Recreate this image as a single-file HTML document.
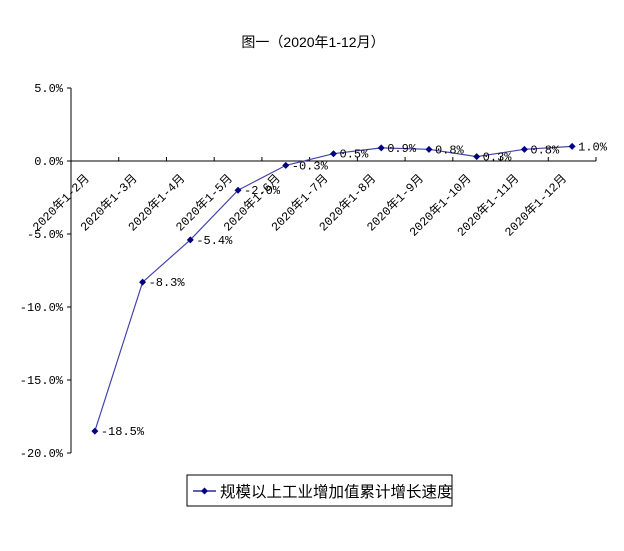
<!DOCTYPE html>
<html><head><meta charset="utf-8">
<style>
body{margin:0;background:#fff;}
svg{display:block;font-family:"Liberation Mono","Noto Sans CJK SC",monospace;}
</style></head>
<body>
<svg id="chart" width="624" height="551" viewBox="0 0 624 551" xmlns="http://www.w3.org/2000/svg">
<rect width="624" height="551" fill="#fff"/>
<text x="313" y="47" text-anchor="middle" font-size="14" font-family="Liberation Sans,Noto Sans CJK SC,sans-serif" fill="#000">图一（2020年1-12月）</text>
<g id="axes"></g>
<g id="series"></g>
<g>
<rect x="187" y="475" width="265" height="31" fill="#fff" stroke="#000" stroke-width="1"/>
<line x1="193" y1="491" x2="216" y2="491" stroke="#000080" stroke-width="1.2"/>
<path d="M204.5 487.5 L208 491 L204.5 494.5 L201 491 Z" fill="#000080"/>
<text x="220" y="497" font-size="15.5" font-family="Liberation Sans,Noto Sans CJK SC,sans-serif" fill="#000">规模以上工业增加值累计增长速度</text>
</g>
</svg>
<script>
const categories = ["2020年1-2月","2020年1-3月","2020年1-4月","2020年1-5月","2020年1-6月","2020年1-7月","2020年1-8月","2020年1-9月","2020年1-10月","2020年1-11月","2020年1-12月"];
const values = [-18.5,-8.3,-5.4,-2.0,-0.3,0.5,0.9,0.8,0.3,0.8,1.0];
const valueLabels = ["-18.5%","-8.3%","-5.4%","-2.0%","-0.3%","0.5%","0.9%","0.8%","0.3%","0.8%","1.0%"];
const yTicks = [5,0,-5,-10,-15,-20];
const yTickLabels = ["5.0%","0.0%","-5.0%","-10.0%","-15.0%","-20.0%"];

const NS="http://www.w3.org/2000/svg";
const x0=71, x1=596, yTop=88, yZero=161, yMin=-20, yMax=5;
const pxPer=(yZero-yTop)/5;
const y=v=>yZero-v*pxPer;
const step=(x1-x0)/categories.length;
const x=i=>x0+step*(i+0.5);
function mk(tag,attrs,parent){const e=document.createElementNS(NS,tag);for(const k in attrs)e.setAttribute(k,attrs[k]);parent.appendChild(e);return e;}
const axes=document.getElementById('axes'), ser=document.getElementById('series');

const ya=mk('line',{x1:x0,y1:y(yMax),x2:x0,y2:y(yMin),stroke:'#000','stroke-width':1},axes);


yTicks.forEach((t,i)=>{
  const tk=mk('line',{x1:x0-4,y1:y(t),x2:x0,y2:y(t),stroke:'#000'},axes);
  
  
  const tl=mk('text',{x:x0-8,y:y(t)+4,'text-anchor':'end','font-size':12,fill:'#000'},axes);
  tl.textContent=yTickLabels[i];
  
  
});
const xa=mk('line',{x1:x0,y1:yZero,x2:x1,y2:yZero,stroke:'#000','stroke-width':1},axes);


for(let i=1;i<=categories.length;i++){
  const xx=x0+step*i;
  const tk=mk('line',{x1:xx,y1:yZero-4,x2:xx,y2:yZero,stroke:'#000'},axes);
  
  
}
categories.forEach((c,i)=>{
  const tx=x(i)-5, ty=yZero+18;
  const t=mk('text',{x:tx,y:ty,'text-anchor':'end','font-size':12,fill:'#000',transform:`rotate(-45 ${tx} ${ty})`},axes);
  t.textContent=c;
  
  
});
const pts=values.map((v,i)=>x(i)+','+y(v)).join(' ');
const line=mk('polyline',{points:pts,fill:'none',stroke:'#4444aa','stroke-width':1.2},ser);


values.forEach((v,i)=>{
  const cx=x(i), cy=y(v);
  const m=mk('path',{d:`M${cx} ${cy-3.5} L${cx+3.5} ${cy} L${cx} ${cy+3.5} L${cx-3.5} ${cy} Z`,fill:'#000080'},ser);
  
  
  const l=mk('text',{x:cx+6,y:cy+4,'font-size':12,fill:'#000'},ser);
  l.textContent=valueLabels[i];
  
  
});
</script>
</body></html>
